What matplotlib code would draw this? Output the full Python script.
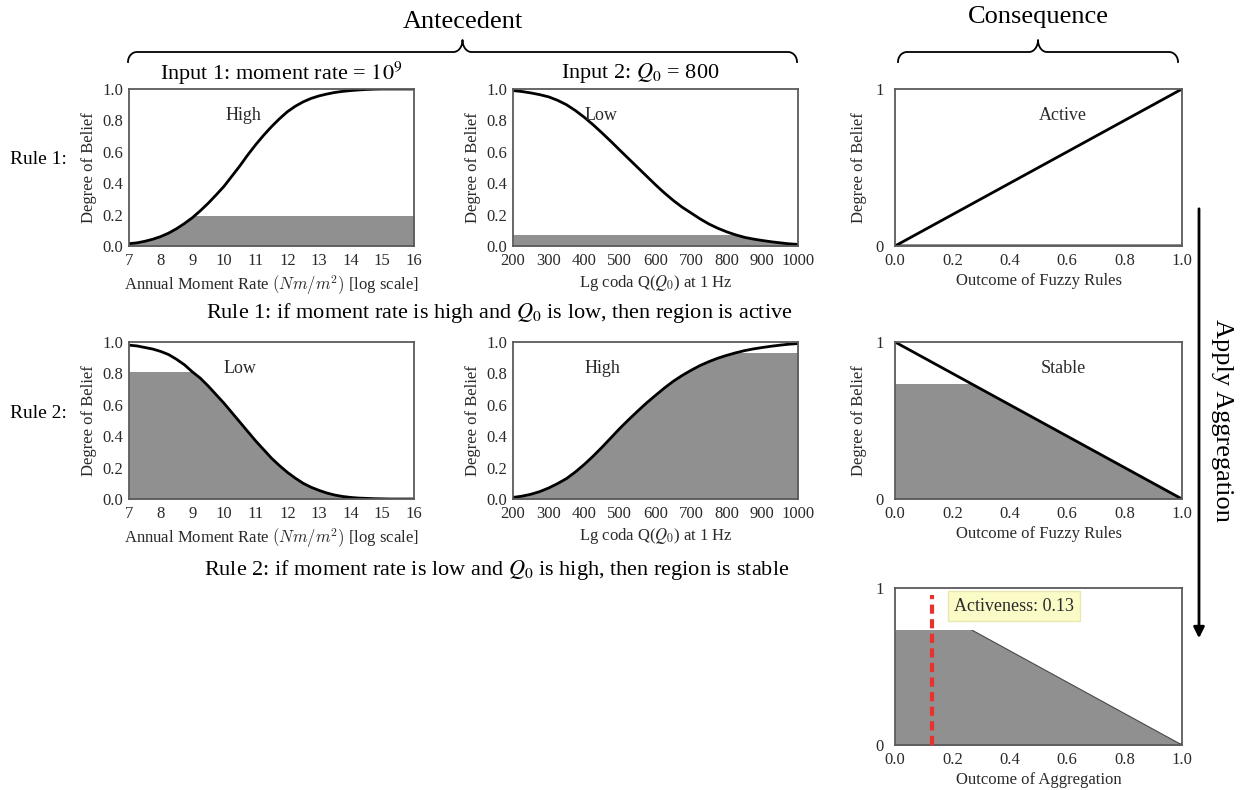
import numpy as np
import matplotlib
matplotlib.use('Agg')
import matplotlib.pyplot as plt
from matplotlib.patches import Rectangle, FancyArrowPatch
from matplotlib.lines import Line2D

plt.rcParams['font.family'] = ['Liberation Serif', 'DejaVu Serif']
plt.rcParams['mathtext.fontset'] = 'stix'

# ---- data ----
moment_x = [7, 7.25, 7.5, 7.75, 8, 8.25, 8.5, 8.75, 9, 9.25, 9.5, 9.75, 10, 10.25, 10.5, 10.75,
            11, 11.25, 11.5, 11.75, 12, 12.25, 12.5, 12.75, 13, 13.25, 13.5, 13.75, 14, 14.25,
            14.5, 14.75, 15, 15.25, 15.5, 15.75, 16]
moment_high = [0.015, 0.02, 0.03, 0.043, 0.06, 0.082, 0.11, 0.143, 0.18, 0.224, 0.272, 0.325,
               0.38, 0.445, 0.51, 0.58, 0.645, 0.705, 0.76, 0.81, 0.855, 0.89, 0.918, 0.94,
               0.956, 0.968, 0.978, 0.985, 0.99, 0.994, 0.997, 0.999, 1.0, 1.0, 1.0, 1.0, 1.0]
moment_low = [0.98, 0.975, 0.965, 0.955, 0.94, 0.92, 0.89, 0.855, 0.81, 0.77, 0.72, 0.665,
              0.61, 0.55, 0.49, 0.43, 0.37, 0.315, 0.26, 0.213, 0.17, 0.133, 0.10, 0.075,
              0.055, 0.038, 0.025, 0.016, 0.01, 0.006, 0.004, 0.002, 0.001, 0.0, 0.0, 0.0, 0.0]

q0_x = [200, 225, 250, 275, 300, 325, 350, 375, 400, 425, 450, 475, 500, 525, 550, 575, 600,
        625, 650, 675, 700, 725, 750, 775, 800, 825, 850, 875, 900, 925, 950, 975, 1000]
q0_low = [0.99, 0.984, 0.975, 0.964, 0.95, 0.928, 0.90, 0.863, 0.82, 0.772, 0.72, 0.666, 0.61,
          0.555, 0.50, 0.445, 0.39, 0.338, 0.29, 0.247, 0.21, 0.173, 0.14, 0.113, 0.09, 0.071,
          0.055, 0.044, 0.035, 0.027, 0.02, 0.014, 0.01]
q0_high = [0.01, 0.018, 0.03, 0.047, 0.07, 0.098, 0.13, 0.172, 0.22, 0.273, 0.33, 0.39, 0.45,
           0.506, 0.56, 0.612, 0.66, 0.707, 0.75, 0.787, 0.82, 0.85, 0.875, 0.897, 0.915, 0.931,
           0.945, 0.956, 0.965, 0.973, 0.98, 0.986, 0.99]

outcome_x = [0.0, 1.0]
active = [0.0, 1.0]
stable = [1.0, 0.0]

# firing levels (clip heights)
rule1_moment_level = 0.19
rule1_q0_level = 0.07
rule2_moment_level = 0.81
rule2_q0_level = 0.93
active_level = 0.01
stable_level = 0.73
activeness = 0.13

moment_ticks = list(range(7, 17))
q0_ticks = list(range(200, 1001, 100))
outcome_ticks = [0.0, 0.2, 0.4, 0.6, 0.8, 1.0]
belief_ticks = [0.0, 0.2, 0.4, 0.6, 0.8, 1.0]

W, H = 1242, 790
FILL = '#909090'
SPINE = '#5a5a5a'
TXT = '#2a2a2a'

fig = plt.figure(figsize=(W / 100, H / 100), dpi=100)


def px_axes(left, top, right, bottom):
    return fig.add_axes([left / W, 1 - bottom / H, (right - left) / W, (bottom - top) / H])


def style(ax, xlim, xticks, yticks, yfmt, xlabel, cm=False, ypad=4):
    ax.set_xlim(*xlim)
    ax.set_ylim(0, 1)
    ax.set_xticks(xticks)
    ax.set_yticks(yticks)
    ax.set_yticklabels([yfmt.format(t) for t in yticks])
    if isinstance(xticks[0], float):
        ax.set_xticklabels(['{:.1f}'.format(t) for t in xticks])
    ax.tick_params(length=0, labelsize=12, colors=TXT)
    ax.tick_params(axis='x', pad=5)
    ax.tick_params(axis='y', pad=ypad)
    for s in ax.spines.values():
        s.set_color(SPINE)
        s.set_linewidth(1.3)
    kw = {'math_fontfamily': 'cm'} if cm else {}
    ax.set_xlabel(xlabel, fontsize=12, color=TXT, labelpad=3, **kw)


def clipped_fill(ax, x, y, level, edge=False):
    poly = ax.fill_between(x, 0, y, color=FILL, lw=0, zorder=1)
    rect = Rectangle((min(x), 0), max(x) - min(x), level, transform=ax.transData,
                     facecolor='none', edgecolor='none')
    ax.add_patch(rect)
    poly.set_clip_path(rect)
    if edge:
        ln, = ax.plot(x, y, color='#444444', lw=0.8, zorder=2)
        ln.set_clip_path(rect)


def label(ax, x, y, s):
    ax.text(x, y, s, fontsize=13, color=TXT, ha='center', va='center')


moment_label = r'Annual Moment Rate $(Nm/m^2)$ [log scale]'
q0_label = r'Lg coda Q($Q_0$) at 1 Hz'

# row 1
ax = px_axes(129, 89, 414, 246)
clipped_fill(ax, moment_x, moment_high, rule1_moment_level)
ax.plot(moment_x, moment_high, color='black', lw=2)
style(ax, (7, 16), moment_ticks, belief_ticks, '{:.1f}', moment_label, cm=True)
ax.set_ylabel('Degree of Belief', fontsize=12, color=TXT)
label(ax, 10.6, 0.83, 'High')

ax = px_axes(513, 89, 798, 246)
clipped_fill(ax, q0_x, q0_low, rule1_q0_level)
ax.plot(q0_x, q0_low, color='black', lw=2)
style(ax, (200, 1000), q0_ticks, belief_ticks, '{:.1f}', q0_label)
ax.set_ylabel('Degree of Belief', fontsize=12, color=TXT)
label(ax, 447, 0.83, 'Low')

ax = px_axes(895, 89, 1182, 246)
clipped_fill(ax, outcome_x, active, active_level)
ax.plot(outcome_x, active, color='black', lw=2)
style(ax, (0, 1), outcome_ticks, [0, 1], '{:d}', 'Outcome of Fuzzy Rules', ypad=8)
ax.set_ylabel('Degree of Belief', fontsize=12, color=TXT, labelpad=6)
label(ax, 0.585, 0.83, 'Active')

# row 2
ax = px_axes(129, 342, 414, 499)
clipped_fill(ax, moment_x, moment_low, rule2_moment_level)
ax.plot(moment_x, moment_low, color='black', lw=2)
style(ax, (7, 16), moment_ticks, belief_ticks, '{:.1f}', moment_label, cm=True)
ax.set_ylabel('Degree of Belief', fontsize=12, color=TXT)
label(ax, 10.5, 0.83, 'Low')

ax = px_axes(513, 342, 798, 499)
clipped_fill(ax, q0_x, q0_high, rule2_q0_level)
ax.plot(q0_x, q0_high, color='black', lw=2)
style(ax, (200, 1000), q0_ticks, belief_ticks, '{:.1f}', q0_label)
ax.set_ylabel('Degree of Belief', fontsize=12, color=TXT)
label(ax, 450, 0.83, 'High')

ax = px_axes(895, 342, 1182, 499)
clipped_fill(ax, outcome_x, stable, stable_level)
ax.plot(outcome_x, stable, color='black', lw=2)
style(ax, (0, 1), outcome_ticks, [0, 1], '{:d}', 'Outcome of Fuzzy Rules', ypad=8)
ax.set_ylabel('Degree of Belief', fontsize=12, color=TXT, labelpad=6)
label(ax, 0.585, 0.83, 'Stable')

# aggregation
ax = px_axes(895, 588, 1182, 745)
clipped_fill(ax, outcome_x, stable, stable_level, edge=True)
clipped_fill(ax, outcome_x, active, active_level)
ax.axvline(activeness, ymin=0, ymax=0.955, color='#e8322e', lw=3, ls=(0, (2.2, 1.3)), zorder=3)
style(ax, (0, 1), outcome_ticks, [0, 1], '{:d}', 'Outcome of Aggregation', ypad=8)
ax.text(0.205, 0.885, 'Activeness: {:.2f}'.format(activeness), fontsize=13, color=TXT,
        ha='left', va='center',
        bbox=dict(boxstyle='square,pad=0.35', facecolor='#fbfbc8', edgecolor='#e8e8b0'))


# figure-level annotations
def fx(x):
    return x / W


def fy(y):
    return 1 - y / H


def brace(x0, x1, y_end, y_line, y_tip, r=9):
    xm = (x0 + x1) / 2
    t = np.linspace(0, np.pi / 2, 20)
    xs = list(x0 + r * (1 - np.cos(t))) + list(xm - r + r * np.sin(t))
    ys = list(y_end - (y_end - y_line) * np.sin(t)) + list(y_line - (y_line - y_tip) * (1 - np.cos(t)))
    xs2 = [2 * xm - v for v in xs[::-1]]
    ys2 = ys[::-1]
    allx = np.array(xs + xs2)
    ally = np.array(ys + ys2)
    fig.add_artist(Line2D(fx(allx), fy(ally), transform=fig.transFigure, color='black', lw=1.3))


brace(128, 797, 62, 52, 40)
brace(898, 1178, 62, 52, 40)

fig.text(fx(463), fy(22), 'Antecedent', fontsize=19, ha='center', va='center')
fig.text(fx(1038), fy(17), 'Consequence', fontsize=19, ha='center', va='center')
fig.text(fx(281), fy(73), r'Input 1: moment rate = $10^9$', fontsize=16, ha='center', va='center')
fig.text(fx(640), fy(73), r'Input 2: $Q_0$ = 800', fontsize=16, ha='center', va='center')
fig.text(fx(10), fy(160), 'Rule 1:', fontsize=14, ha='left', va='center')
fig.text(fx(10), fy(414), 'Rule 2:', fontsize=14, ha='left', va='center')
fig.text(fx(499), fy(313), r'Rule 1: if moment rate is high and $Q_0$ is low, then region is active',
         fontsize=16, ha='center', va='center')
fig.text(fx(497), fy(570), r'Rule 2: if moment rate is low and $Q_0$ is high, then region is stable',
         fontsize=16, ha='center', va='center')

fig.add_artist(FancyArrowPatch((fx(1199), fy(206)), (fx(1199), fy(641)), transform=fig.transFigure,
                               arrowstyle='-|>', mutation_scale=16, lw=2, color='black'))
fig.text(fx(1222), fy(420), 'Apply Aggregation', fontsize=19, rotation=-90, ha='center', va='center')

fig.savefig('out.png', dpi=100)
